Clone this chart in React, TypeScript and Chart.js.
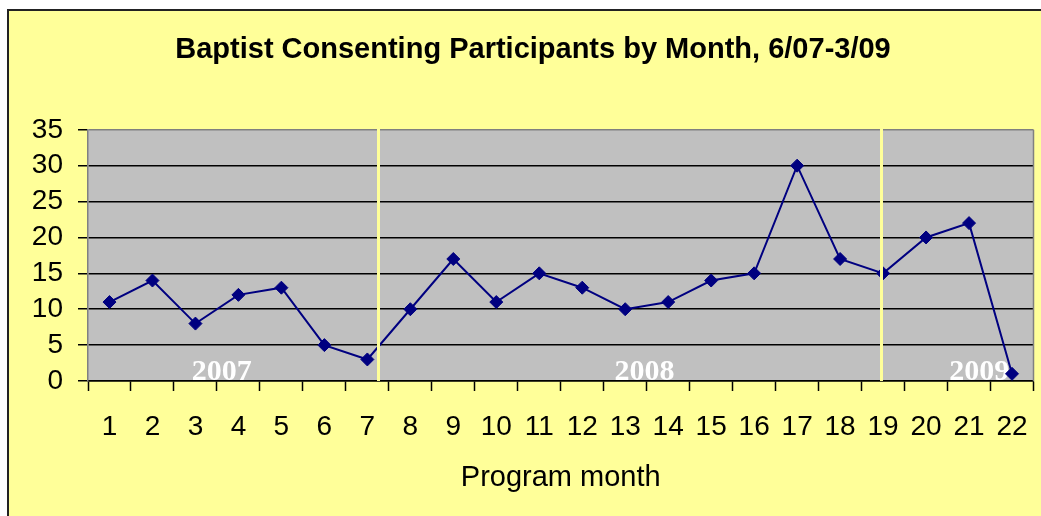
import React, { useEffect, useRef } from "react";
import { Chart, registerables } from "chart.js";

Chart.register(...registerables);

const titleText = "Baptist Consenting Participants by Month, 6/07-3/09";
const xAxisTitle = "Program month";
const months = ["1", "2", "3", "4", "5", "6", "7", "8", "9", "10", "11", "12", "13", "14", "15", "16", "17", "18", "19", "20", "21", "22"];
const participants = [11, 14, 8, 12, 13, 5, 3, 10, 17, 11, 15, 13, 10, 11, 14, 15, 30, 17, 15, 20, 22, 1];
const yearLabels = ["2007", "2008", "2009"];
const yearLabelAt = [2.61, 12.45, 20.24];
const dividerAt = [6.25, 17.94];
const yMin = 0;
const yMax = 35;
const yStep = 5;

const FONT = "'Liberation Sans', Arial, sans-serif";

function catPixel(scale: any, v: number) {
  const i = Math.floor(v);
  const f = v - i;
  const p0 = scale.getPixelForValue(i);
  const p1 = scale.getPixelForValue(i + 1);
  return p0 + f * (p1 - p0);
}

const framePlugin = {
  id: "frame",
  beforeDraw(chart: any) {
    const { ctx, width, height, chartArea: a } = chart;
    ctx.save();
    ctx.fillStyle = "#ffffff";
    ctx.fillRect(0, 0, width, height);
    ctx.fillStyle = "#FFFF99";
    ctx.fillRect(8, 10, width - 8, height - 10);
    ctx.strokeStyle = "#222222";
    ctx.lineWidth = 2;
    ctx.beginPath();
    ctx.moveTo(8, height);
    ctx.lineTo(8, 10);
    ctx.lineTo(width, 10);
    ctx.stroke();
    ctx.fillStyle = "#C0C0C0";
    ctx.fillRect(a.left, a.top, a.right - a.left, a.bottom - a.top);
    ctx.restore();
  },
  beforeDatasetsDraw(chart: any) {
    const { ctx, chartArea: a } = chart;
    const xs = chart.scales.x;
    ctx.save();
    ctx.fillStyle = "#ffffff";
    ctx.font = "bold 30px 'Liberation Serif', 'Times New Roman', serif";
    ctx.textAlign = "center";
    ctx.textBaseline = "alphabetic";
    yearLabels.forEach((t, i) => {
      ctx.fillText(t, catPixel(xs, yearLabelAt[i]), a.bottom - 1);
    });
    ctx.restore();
  },
  afterDatasetsDraw(chart: any) {
    const { ctx, chartArea: a } = chart;
    const xs = chart.scales.x;
    ctx.save();
    ctx.strokeStyle = "#808080";
    ctx.lineWidth = 1.5;
    ctx.beginPath();
    ctx.moveTo(a.right, a.top);
    ctx.lineTo(a.right, a.bottom);
    ctx.stroke();
    ctx.strokeStyle = "#FFFF99";
    ctx.lineWidth = 3;
    dividerAt.forEach((d) => {
      const px = Math.round(catPixel(xs, d)) + 0.5;
      ctx.beginPath();
      ctx.moveTo(px, a.top - 3);
      ctx.lineTo(px, a.bottom);
      ctx.stroke();
    });
    ctx.restore();
  },
};

export default function App() {
  const ref = useRef<HTMLCanvasElement | null>(null);

  useEffect(() => {
    if (!ref.current) return;
    Chart.defaults.font.family = FONT;
    const chart = new Chart(ref.current, {
      type: "line",
      data: {
        labels: months,
        datasets: [
          {
            data: participants,
            borderColor: "#000080",
            backgroundColor: "#000080",
            borderWidth: 2,
            pointStyle: "rectRot",
            pointRadius: 6.5,
            pointBorderWidth: 1,
            pointBackgroundColor: "#000080",
            pointBorderColor: "#000080",
            tension: 0,
            fill: false,
          },
        ],
      },
      options: {
        responsive: false,
        animation: false,
        events: [],
        layout: { padding: { left: 30, right: 5, top: 0, bottom: 0 } },
        plugins: {
          legend: { display: false },
          tooltip: { enabled: false },
          title: {
            display: true,
            text: titleText,
            color: "#000",
            font: { family: FONT, size: 29, weight: "bold" },
            padding: { top: 33, bottom: 62 },
          },
        },
        scales: {
          x: {
            type: "category",
            offset: true,
            grid: {
              offset: true,
              drawOnChartArea: false,
              drawTicks: true,
              tickLength: 10,
              tickColor: "#000",
              tickWidth: 1.5,
            },
            border: { color: "#000", width: 1.5 },
            ticks: {
              color: "#000",
              font: { family: FONT, size: 28 },
              padding: 19,
              autoSkip: false,
              maxRotation: 0,
              minRotation: 0,
            },
            title: {
              display: true,
              text: xAxisTitle,
              color: "#000",
              font: { family: FONT, size: 29 },
              padding: { top: 0, bottom: 21 },
            },
            afterFit: (s: any) => {
              s.height = 135;
              s.paddingLeft = 0;
              s.paddingRight = 0;
            },
          },
          y: {
            min: yMin,
            max: yMax,
            grid: {
              color: (c: any) => (c.tick && c.tick.value === yMax ? "#808080" : "#000"),
              lineWidth: 1.5,
              tickLength: 10,
              tickColor: "#000",
              tickWidth: 1.5,
            },
            border: { color: "#808080", width: 1.5 },
            ticks: {
              stepSize: yStep,
              autoSkip: false,
              color: "#000",
              font: { family: FONT, size: 28 },
              padding: 15,
            },
            afterFit: (s: any) => {
              s.width = 58;
            },
          },
        },
      },
      plugins: [framePlugin],
    } as any);
    return () => chart.destroy();
  }, []);

  return (
    <div style={{ position: "fixed", left: 0, top: 0, width: 1041, height: 516 }}>
      <canvas ref={ref} width={1041} height={516} style={{ display: "block", width: 1041, height: 516 }} />
    </div>
  );
}
